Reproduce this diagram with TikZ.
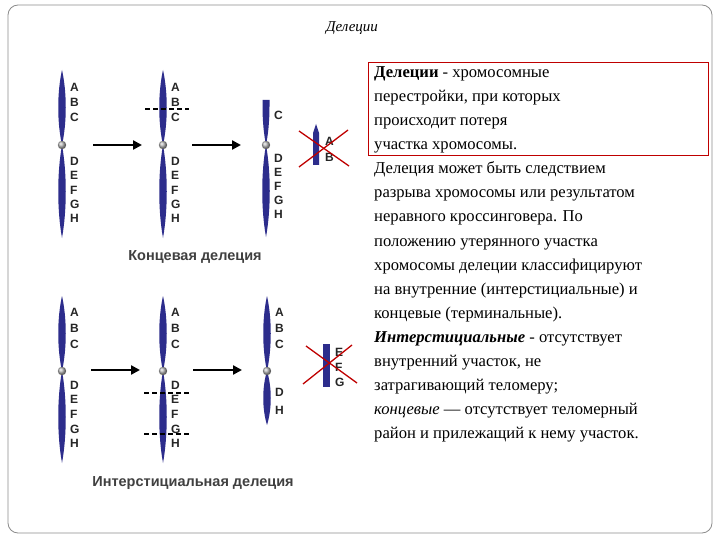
\documentclass[tikz,border=0pt]{standalone}
\usepackage{fontspec}
\setmainfont{Liberation Serif}
\newfontfamily\lsans{Liberation Sans}
\usetikzlibrary{arrows.meta}
\begin{document}
\begin{tikzpicture}[x=1pt,y=-1pt,
  lbl/.style={font=\lsans\bfseries\fontsize{12}{12}\selectfont, inner sep=0pt, anchor=west, text=black!85},
  captext/.style={font=\lsans\bfseries\fontsize{14.5}{14.5}\selectfont, text=black!75},
  txt/.style={font=\fontsize{16.6}{17}\selectfont, inner sep=0pt, anchor=base west},
  cutline/.style={dash pattern=on 5pt off 3pt, line width=1.4pt},
  arr/.style={line width=2.5pt, -{Triangle[length=9pt,width=9pt]}},
  cross/.style={draw=red!75!black, line width=1.3pt}]
\useasboundingbox (0,0) rectangle (720,540);
\fill[white] (0,0) rectangle (720,540);
\draw[black!45, line width=0.8pt, rounded corners=10pt] (8,5) rectangle (712,533);
\definecolor{chr}{RGB}{45,45,140}
\newcommand{\arm}[3]{\fill[chr] (#1,#2) .. controls (#1+5,#2+0.3*#3-0.3*#2) and (#1+5,#3-0.3*#3+0.3*#2) .. (#1,#3) .. controls (#1-5,#3-0.3*#3+0.3*#2) and (#1-5,#2+0.3*#3-0.3*#2) .. (#1,#2) -- cycle;}
\newcommand{\cen}[2]{\shade[ball color=gray!60] (#1,#2) circle (4.2);}
\node[font=\itshape\fontsize{15}{15}\selectfont] (title) at (352,28) {Делеции};
% top row
\arm{62}{70}{145}\arm{62}{145}{238}\cen{62}{145}
\arm{163}{70}{145}\arm{163}{145}{238}\cen{163}{145}
\fill[chr] (262.5,100) -- (269.5,100) -- (269.5,106) .. controls (269.5,122) and (268,135) .. (266,145) .. controls (264,135) and (262.5,122) .. (262.5,106) -- cycle;
\arm{266}{145}{237}\cen{266}{145}
\foreach \l/\y in {A/87,B/102,C/117,D/161,E/175,F/190,G/204,H/218}{
  \node[lbl] at (70,\y) {\l}; \node[lbl] at (171,\y) {\l};}
\foreach \l/\y in {C/115,D/158,E/172,F/186,G/200,H/214}{\node[lbl] at (274,\y) {\l};}
\fill[chr] (313,165) -- (313,133) -- (316,124) -- (319,133) -- (319,165) -- cycle;
\node[lbl] at (325,141) {A}; \node[lbl] at (325,157) {B};
\draw[cross] (299,131) -- (349,166); \draw[cross] (299,167) -- (348,130);
\draw[cutline] (145,109) -- (189,109);
\coordinate (a1s) at (93,145); \coordinate (a1e) at (142,145);
\coordinate (a2s) at (192,145); \coordinate (a2e) at (241,145);
\draw[arr] (a1s) -- (a1e); \draw[arr] (a2s) -- (a2e);
\node[captext] (c1) at (195,257) {Концевая делеция};
% bottom row
\arm{62}{296}{371}\arm{62}{371}{463}\cen{62}{371}
\arm{163}{296}{371}\arm{163}{371}{463}\cen{163}{371}
\arm{267}{296}{371}\arm{267}{371}{425}\cen{267}{371}
\foreach \l/\y in {A/312,B/328,C/344,D/385,E/399,F/414,G/429,H/443}{
  \node[lbl] at (70,\y) {\l}; \node[lbl] at (171,\y) {\l};}
\foreach \l/\y in {A/312,B/328,C/344,D/392,H/410}{\node[lbl] at (275,\y) {\l};}
\fill[chr] (323,344) rectangle (330,387);
\node[lbl] at (335,352) {E}; \node[lbl] at (335,367) {F}; \node[lbl] at (335,382) {G};
\draw[cross] (306,346) -- (357,383); \draw[cross] (303,384) -- (352,345);
\draw[cutline] (144,393) -- (189,393); \draw[cutline] (144,434) -- (189,434);
\coordinate (b1s) at (91,370); \coordinate (b1e) at (140,370);
\coordinate (b2s) at (193,370); \coordinate (b2e) at (242,370);
\draw[arr] (b1s) -- (b1e); \draw[arr] (b2s) -- (b2e);
\node[captext] (c2) at (193,483) {Интерстициальная делеция};
% text
\draw[red!75!black, line width=0.8pt] (368,62) rectangle (708,155);
\foreach \t [count=\i] in {
 {\textbf{Делеции} - хромосомные},
 {перестройки, при которых},
 {происходит потеря},
 {участка хромосомы.},
 {Делеция может быть следствием},
 {разрыва хромосомы или результатом},
 {неравного кроссинговера. По},
 {положению утерянного участка},
 {хромосомы делеции классифицируют},
 {на внутренние (интерстициальные) и},
 {концевые (терминальные).},
 {\textbf{\textit{Интерстициальные}} - отсутствует},
 {внутренний участок, не},
 {затрагивающий теломеру;},
 {\textit{концевые} — отсутствует теломерный},
 {район и прилежащий к нему участок.}}
 {\node[txt] (t\i) at (374,{54+24*\i}) {\t};}
\end{tikzpicture}
\end{document}
